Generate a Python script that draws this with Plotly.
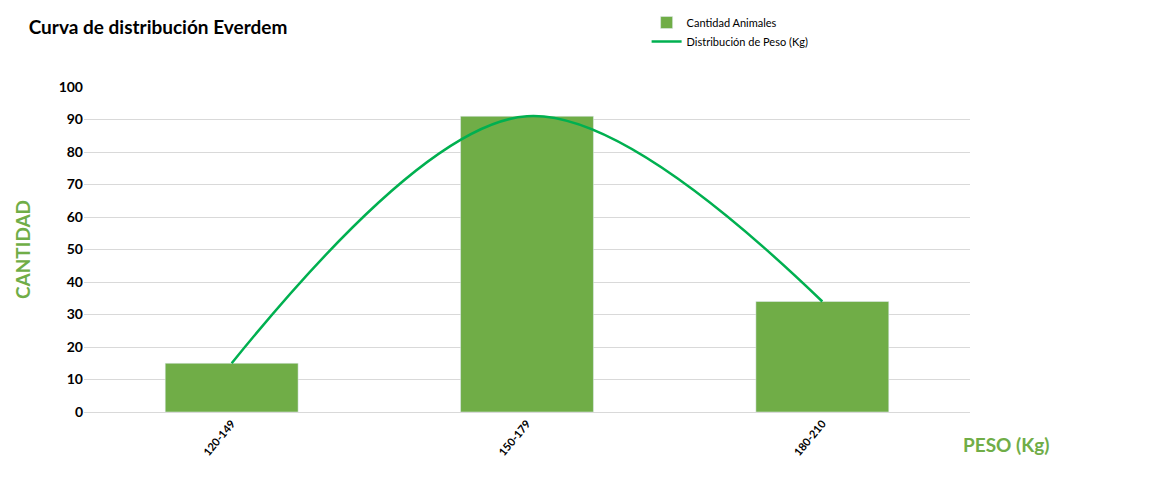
import plotly.graph_objects as go

rangos = ["120-149", "150-179", "180-210"]
cantidad = [15, 91, 34]
distribucion = [15, 91, 34]

fig = go.Figure()
fig.add_trace(go.Bar(x=rangos, y=cantidad, name="Cantidad Animales",
                     marker_color="#70AD47", width=0.45))
fig.add_trace(go.Scatter(x=rangos, y=distribucion, name="Distribución de Peso (Kg)",
                         mode="lines", line=dict(color="#00B050", width=2.5, shape="spline", smoothing=1.0)))

fig.update_layout(
    width=1150, height=489,
    margin=dict(l=76, r=188, t=79, b=85),
    plot_bgcolor="white", paper_bgcolor="white",
    font=dict(family="Lato", color="black"),
    title=dict(text="<b>Curva de distribución Everdem</b>", x=0.018, y=0.975,
               xanchor="left", font=dict(size=19, color="black")),
    legend=dict(x=0.635, y=1.0, yref="container", xanchor="left", yanchor="top",
                font=dict(size=11), tracegroupgap=22, traceorder="normal"),
    showlegend=True,
)
fig.update_yaxes(range=[0, 100], dtick=10, gridcolor="#D9D9D9", zeroline=False, automargin=False,
                 tickfont=dict(size=14, color="black", family="Lato"),
                 tickprefix="<b>", ticksuffix="</b>",
                 title=dict(text="<b>CANTIDAD</b>", font=dict(size=19, color="#70AD47"), standoff=22))
fig.update_xaxes(tickangle=-50, tickfont=dict(size=11, color="black", family="Lato"),
                 showline=True, linecolor="#D9D9D9", automargin=False,
                 tickprefix="<b>", ticksuffix="</b>")
fig.add_annotation(text="<b>PESO (Kg)</b>", xref="paper", yref="paper", x=1.092, y=-0.14,
                   showarrow=False, font=dict(size=19, color="#70AD47"))

fig.write_html("out.html")
